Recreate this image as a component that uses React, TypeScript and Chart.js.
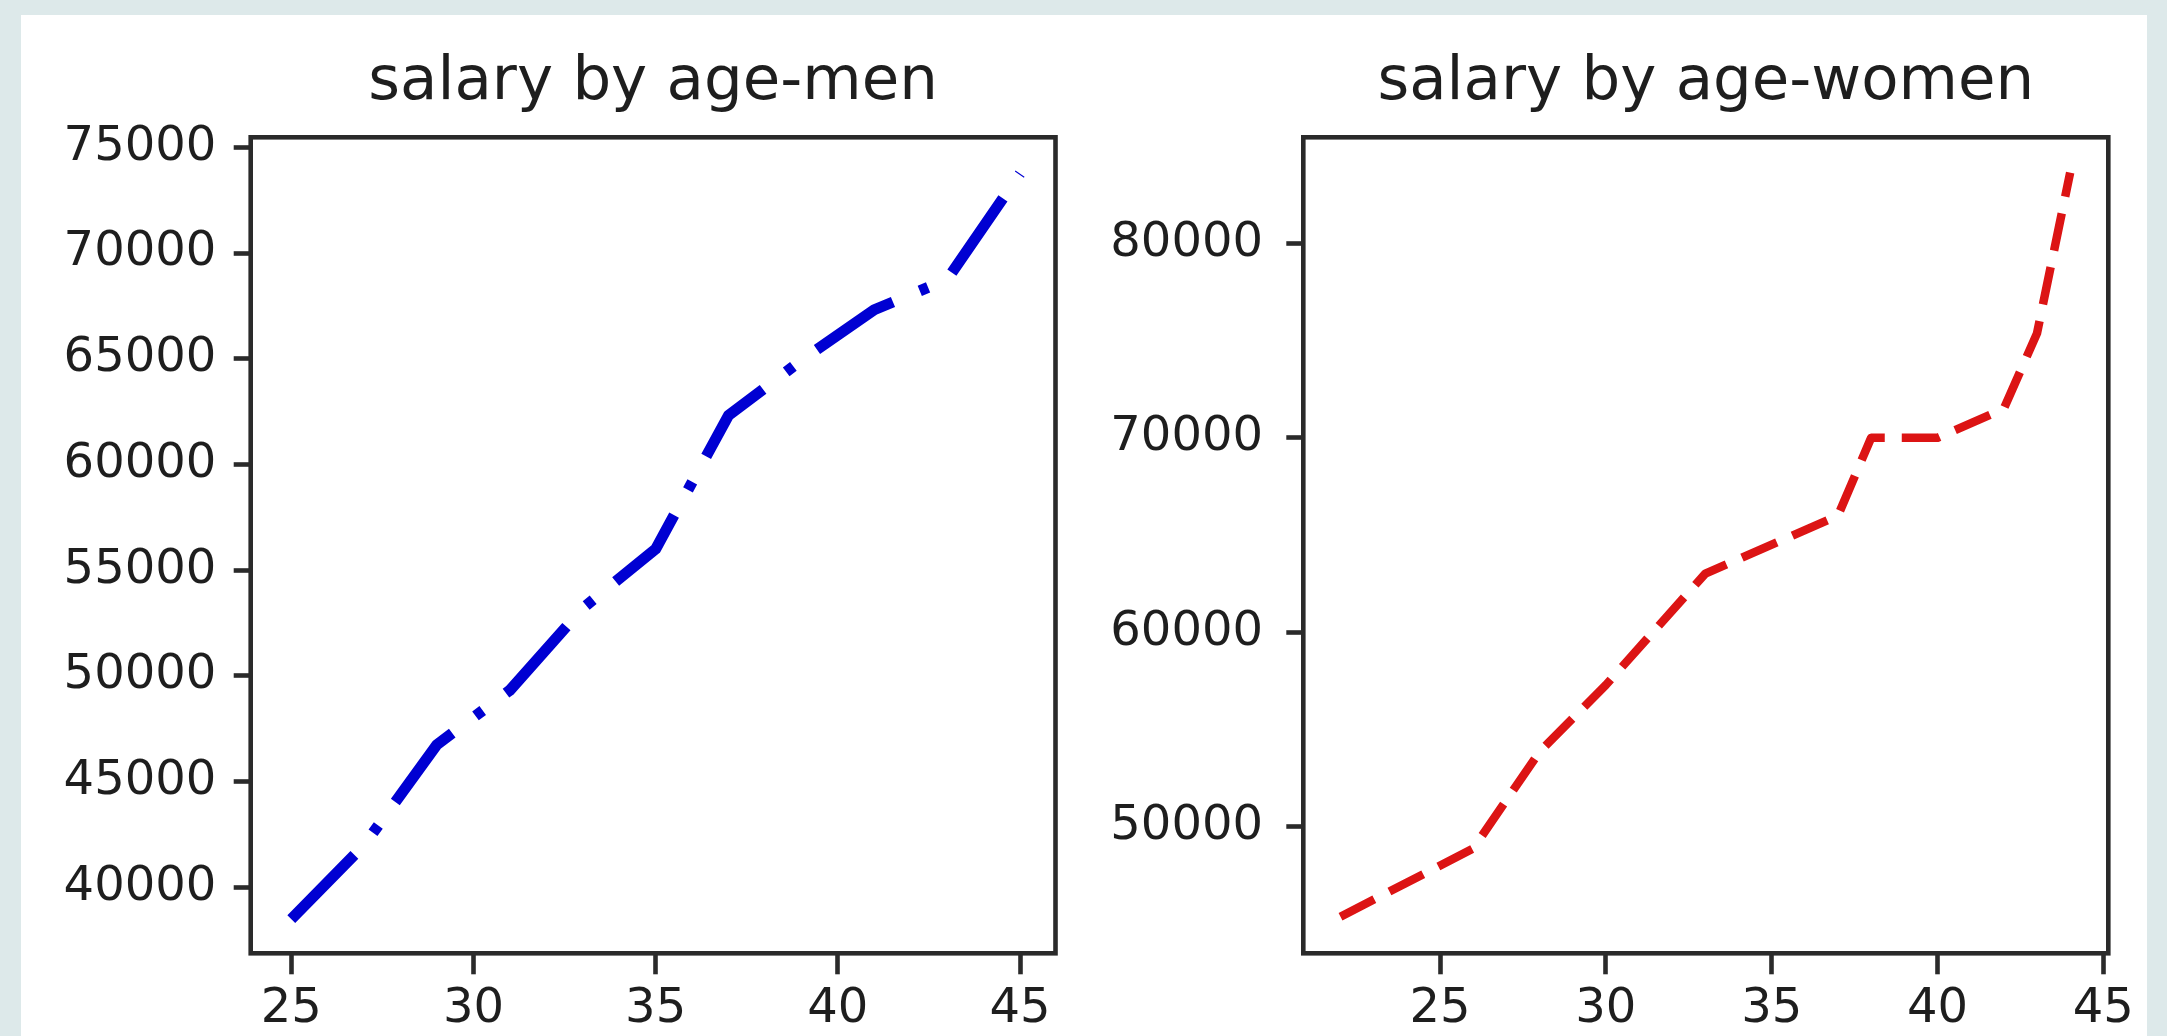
import React, { useEffect, useRef } from "react";
import { Chart, registerables } from "chart.js";

Chart.register(...registerables);

// ---------------- data ----------------
const menAges = [25, 27, 29, 31, 33, 35, 37, 39, 41, 43, 45];
const menSalary = [38496, 42000, 46752, 49320, 53200, 56000, 62316, 64928, 67317, 68748, 73752];

const womenAges = [22, 26, 28, 30, 33, 37, 38, 40, 42, 43, 44];
const womenSalary = [45372, 48876, 53850, 57287, 63016, 65998, 70003, 70000, 71496, 75370, 83640];

const menXTicks = [25, 30, 35, 40, 45];
const menYTicks = [40000, 45000, 50000, 55000, 60000, 65000, 70000, 75000];
const womenXTicks = [25, 30, 35, 40, 45];
const womenYTicks = [50000, 60000, 70000, 80000];

const menTitle = "salary by age-men";
const womenTitle = "salary by age-women";

// ---------------- styling ----------------
const FONT = "'DejaVu Sans', 'Liberation Sans', sans-serif";
const AXIS_COLOR = "#2a2a2a";
const TEXT_COLOR = "#1e1e1e";
const FRAME_W = 4.6;

const framePlugin = {
  id: "frame",
  afterDraw(chart: any) {
    const { ctx, chartArea } = chart;
    ctx.save();
    ctx.strokeStyle = AXIS_COLOR;
    ctx.lineWidth = FRAME_W;
    ctx.lineJoin = "miter";
    ctx.strokeRect(
      chartArea.left,
      chartArea.top,
      chartArea.right - chartArea.left,
      chartArea.bottom - chartArea.top
    );
    ctx.restore();
  },
};

type PanelSpec = {
  xs: number[];
  ys: number[];
  xTicks: number[];
  yTicks: number[];
  xMin: number;
  xMax: number;
  yMin: number;
  yMax: number;
  title: string;
  color: string;
  lineWidth: number;
  dash: number[];
  yAxisWidth: number;
  padRight: number;
  yLabelPad: number;
};

function buildConfig(p: PanelSpec): any {
  const tickFont = { family: FONT, size: 48, weight: "normal" as const };
  return {
    type: "line",
    data: {
      datasets: [
        {
          data: p.xs.map((x, i) => ({ x, y: p.ys[i] })),
          borderColor: p.color,
          borderWidth: p.lineWidth,
          borderDash: p.dash,
          borderCapStyle: "butt",
          borderJoinStyle: "round",
          pointRadius: 0,
          pointHoverRadius: 0,
          fill: false,
          tension: 0,
          clip: 20,
        },
      ],
    },
    options: {
      responsive: false,
      maintainAspectRatio: false,
      animation: false,
      events: [],
      layout: { padding: { left: 0, right: p.padRight, top: 0, bottom: 0 } },
      plugins: {
        legend: { display: false },
        tooltip: { enabled: false },
        title: {
          display: true,
          text: p.title,
          fullSize: false,
          color: TEXT_COLOR,
          font: { family: FONT, size: 61, weight: "normal", lineHeight: 1.2 },
          padding: { top: 46.7, bottom: 17.4 },
        },
      },
      scales: {
        x: {
          type: "linear",
          min: p.xMin,
          max: p.xMax,
          afterBuildTicks: (s: any) => {
            s.ticks = p.xTicks.map((v) => ({ value: v }));
          },
          afterFit: (s: any) => {
            s.height = 1036 - 953.3;
          },
          border: { display: false },
          grid: {
            display: true,
            drawOnChartArea: false,
            drawTicks: true,
            tickLength: 21,
            tickWidth: FRAME_W,
            tickColor: AXIS_COLOR,
          },
          ticks: {
            autoSkip: false,
            maxRotation: 0,
            minRotation: 0,
            padding: 6,
            color: TEXT_COLOR,
            font: tickFont,
            callback: (v: any) => String(v),
          },
        },
        y: {
          type: "linear",
          min: p.yMin,
          max: p.yMax,
          afterBuildTicks: (s: any) => {
            s.ticks = p.yTicks.map((v) => ({ value: v }));
          },
          afterFit: (s: any) => {
            s.width = p.yAxisWidth;
          },
          border: { display: false },
          grid: {
            display: true,
            drawOnChartArea: false,
            drawTicks: true,
            tickLength: 17,
            tickWidth: FRAME_W,
            tickColor: AXIS_COLOR,
          },
          ticks: {
            autoSkip: false,
            padding: p.yLabelPad,
            color: TEXT_COLOR,
            font: tickFont,
            callback: (v: any) => String(v),
          },
        },
      },
    },
    plugins: [framePlugin],
  };
}

function Panel({ spec, left, width }: { spec: PanelSpec; left: number; width: number }) {
  const ref = useRef<HTMLCanvasElement | null>(null);
  useEffect(() => {
    if (!ref.current) return;
    const chart = new Chart(ref.current, buildConfig(spec));
    return () => chart.destroy();
  }, []);
  return (
    <canvas
      ref={ref}
      width={width}
      height={1036}
      style={{ position: "absolute", left, top: 0, width, height: 1036 }}
    />
  );
}

const menSpec: PanelSpec = {
  xs: menAges,
  ys: menSalary,
  xTicks: menXTicks,
  yTicks: menYTicks,
  xMin: 23.886,
  xMax: 45.974,
  yMin: 36878,
  yMax: 75473,
  title: menTitle,
  color: "#0000d2",
  lineWidth: 11,
  dash: [90, 29, 9, 29],
  yAxisWidth: 250.7,
  padRight: 1083 - 1055.5,
  yLabelPad: 17.4,
};

const womenSpec: PanelSpec = {
  xs: womenAges,
  ys: womenSalary,
  xTicks: womenXTicks,
  yTicks: womenYTicks,
  xMin: 20.878,
  xMax: 45.15,
  yMin: 43490,
  yMax: 85451,
  title: womenTitle,
  color: "#dc1414",
  lineWidth: 8.5,
  dash: [38, 17],
  yAxisWidth: 1303.3 - 1083,
  padRight: 2167 - 2108.3,
  yLabelPad: 23.3,
};

export default function App() {
  return (
    <div
      style={{
        position: "absolute",
        left: 0,
        top: 0,
        width: 2167,
        height: 1036,
        overflow: "hidden",
        background: "#dde9ea",
      }}
    >
      <div
        style={{
          position: "absolute",
          left: 21,
          top: 15,
          width: 2147 - 21,
          height: 1036 - 15,
          background: "#ffffff",
        }}
      />
      <Panel spec={menSpec} left={0} width={1083} />
      <Panel spec={womenSpec} left={1083} width={1084} />
    </div>
  );
}
